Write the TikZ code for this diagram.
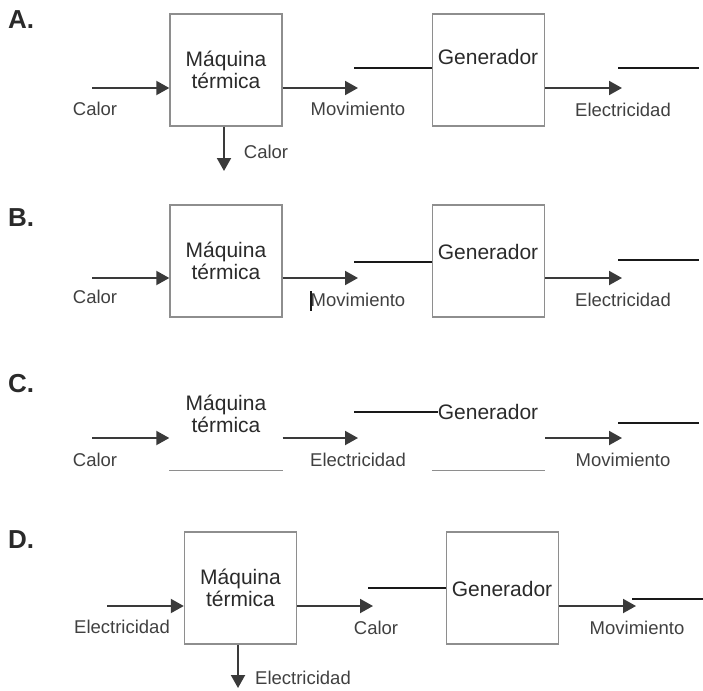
\documentclass[tikz,border=0pt]{standalone}
\usepackage{fontspec}
\setmainfont{Liberation Sans}
\usetikzlibrary{arrows.meta}

\definecolor{boxgray}{HTML}{8E8E8E}
\definecolor{arrowgray}{HTML}{3A3A3A}
\definecolor{txtgray}{HTML}{2A2A2A}
\definecolor{lblgray}{HTML}{404040}

\tikzset{
  blockbox/.style={draw=boxgray, line width=1.4pt, minimum width=112pt, minimum height=112pt,
    inner sep=0pt, align=center, font=\fontsize{21}{22}\selectfont, text=txtgray},
  ghostbox/.style={blockbox, draw=none},
  boxline/.style={draw=boxgray, line width=1.4pt},
  flowarrow/.style={draw=arrowgray, line width=2pt, -{Triangle[length=13pt,width=14pt]}},
  stubline/.style={draw=black!90, line width=2.2pt},
  bigtxt/.style={font=\fontsize{21}{22}\selectfont, text=txtgray, inner sep=0pt},
  lbl/.style={font=\fontsize{18.5}{20}\selectfont, text=lblgray, inner sep=0pt},
  letter/.style={font=\fontsize{26}{28}\selectfont\bfseries, text=txtgray, anchor=west, inner sep=0pt},
}

\begin{document}
\begin{tikzpicture}[x=1pt,y=-1pt]
  \useasboundingbox (0,0) rectangle (703,690);

  % A.
  \node[letter] (letA) at (8,20) {A.};
  \node[blockbox] (maqA) at (226,70) {Máquina\\térmica};
  \node[blockbox] (genA) at (488.5,70) {};
  \node[bigtxt] (genAt) at (488,57) {Generador};
  \coordinate (inA) at (92,88);
  \coordinate (outA) at (358,88);
  \coordinate (dnA) at (224,171);
  \coordinate (elA) at (622,88);
  \coordinate (stubA) at (354,68);
  \coordinate (endA1) at (618,68);
  \coordinate (endA2) at (699,68);
  \draw[flowarrow] (inA) -- (maqA.west |- inA);
  \draw[flowarrow] (maqA.east |- inA) -- (outA);
  \draw[flowarrow] (maqA.south -| dnA) -- (dnA);
  \draw[flowarrow] (genA.east |- elA) -- (elA);
  \draw[stubline] (stubA) -- (genA.west |- stubA) (endA1) -- (endA2);
  \node[lbl] (calA1) at (95,109) {Calor};
  \node[lbl] (movA) at (358,109) {Movimiento};
  \node[lbl] (calA2) at (266,152) {Calor};
  \node[lbl] (elecA) at (623,110) {Electricidad};

  % B.
  \node[letter] (letB) at (8,218) {B.};
  \node[blockbox] (maqB) at (226,261) {Máquina\\térmica};
  \node[blockbox] (genB) at (488.5,261) {};
  \node[bigtxt] (genBt) at (488,252) {Generador};
  \coordinate (inB) at (92,278);
  \coordinate (outB) at (358,278);
  \coordinate (elB) at (622,278);
  \coordinate (stubB) at (354,262);
  \coordinate (endB1) at (618,260);
  \coordinate (endB2) at (699,260);
  \coordinate (barB1) at (311,291);
  \coordinate (barB2) at (311,311);
  \draw[flowarrow] (inB) -- (maqB.west |- inB);
  \draw[flowarrow] (maqB.east |- inB) -- (outB);
  \draw[flowarrow] (genB.east |- elB) -- (elB);
  \draw[stubline] (stubB) -- (genB.west |- stubB) (endB1) -- (endB2);
  \draw[stubline, line width=2pt] (barB1) -- (barB2);
  \node[lbl] (calB) at (95,297) {Calor};
  \node[lbl] (movB) at (358,300) {Movimiento};
  \node[lbl] (elecB) at (623,300) {Electricidad};

  % C.
  \node[letter] (letC) at (8,384) {C.};
  \node[ghostbox] (maqC) at (226,414) {Máquina\\térmica};
  \node[ghostbox] (genC) at (488.5,414) {};
  \node[bigtxt] (genCt) at (488,412) {Generador};
  \coordinate (inC) at (92,438);
  \coordinate (outC) at (358,438);
  \coordinate (elC) at (622,438);
  \coordinate (stubC) at (354,412);
  \coordinate (endC1) at (618,423);
  \coordinate (endC2) at (699,423);
  \draw[flowarrow] (inC) -- (maqC.west |- inC);
  \draw[flowarrow] (maqC.east |- inC) -- (outC);
  \draw[flowarrow] (genC.east |- elC) -- (elC);
  \draw[boxline] (maqC.south west) -- (maqC.south east)
    (genC.south west) -- (genC.south east);
  \draw[stubline] (stubC) -- (genCt.west |- stubC) (endC1) -- (endC2);
  \node[lbl] (calC) at (95,460) {Calor};
  \node[lbl] (elecC) at (358,460) {Electricidad};
  \node[lbl] (movC) at (623,460) {Movimiento};

  % D.
  \node[letter] (letD) at (8,540) {D.};
  \node[blockbox] (maqD) at (240.5,588) {Máquina\\térmica};
  \node[blockbox] (genD) at (502.5,588) {};
  \node[bigtxt] (genDt) at (502,589) {Generador};
  \coordinate (inD) at (107,606);
  \coordinate (outD) at (373,606);
  \coordinate (dnD) at (238,688);
  \coordinate (elD) at (636,606);
  \coordinate (stubD) at (368,588);
  \coordinate (endD1) at (632,599);
  \coordinate (endD2) at (703,599);
  \draw[flowarrow] (inD) -- (maqD.west |- inD);
  \draw[flowarrow] (maqD.east |- inD) -- (outD);
  \draw[flowarrow] (maqD.south -| dnD) -- (dnD);
  \draw[flowarrow] (genD.east |- elD) -- (elD);
  \draw[stubline] (stubD) -- (genD.west |- stubD) (endD1) -- (endD2);
  \node[lbl] (elecD1) at (122,627) {Electricidad};
  \node[lbl, anchor=west] (elecD2) at (255,678) {Electricidad};
  \node[lbl] (calD) at (376,628) {Calor};
  \node[lbl] (movD) at (637,628) {Movimiento};
\end{tikzpicture}
\end{document}
